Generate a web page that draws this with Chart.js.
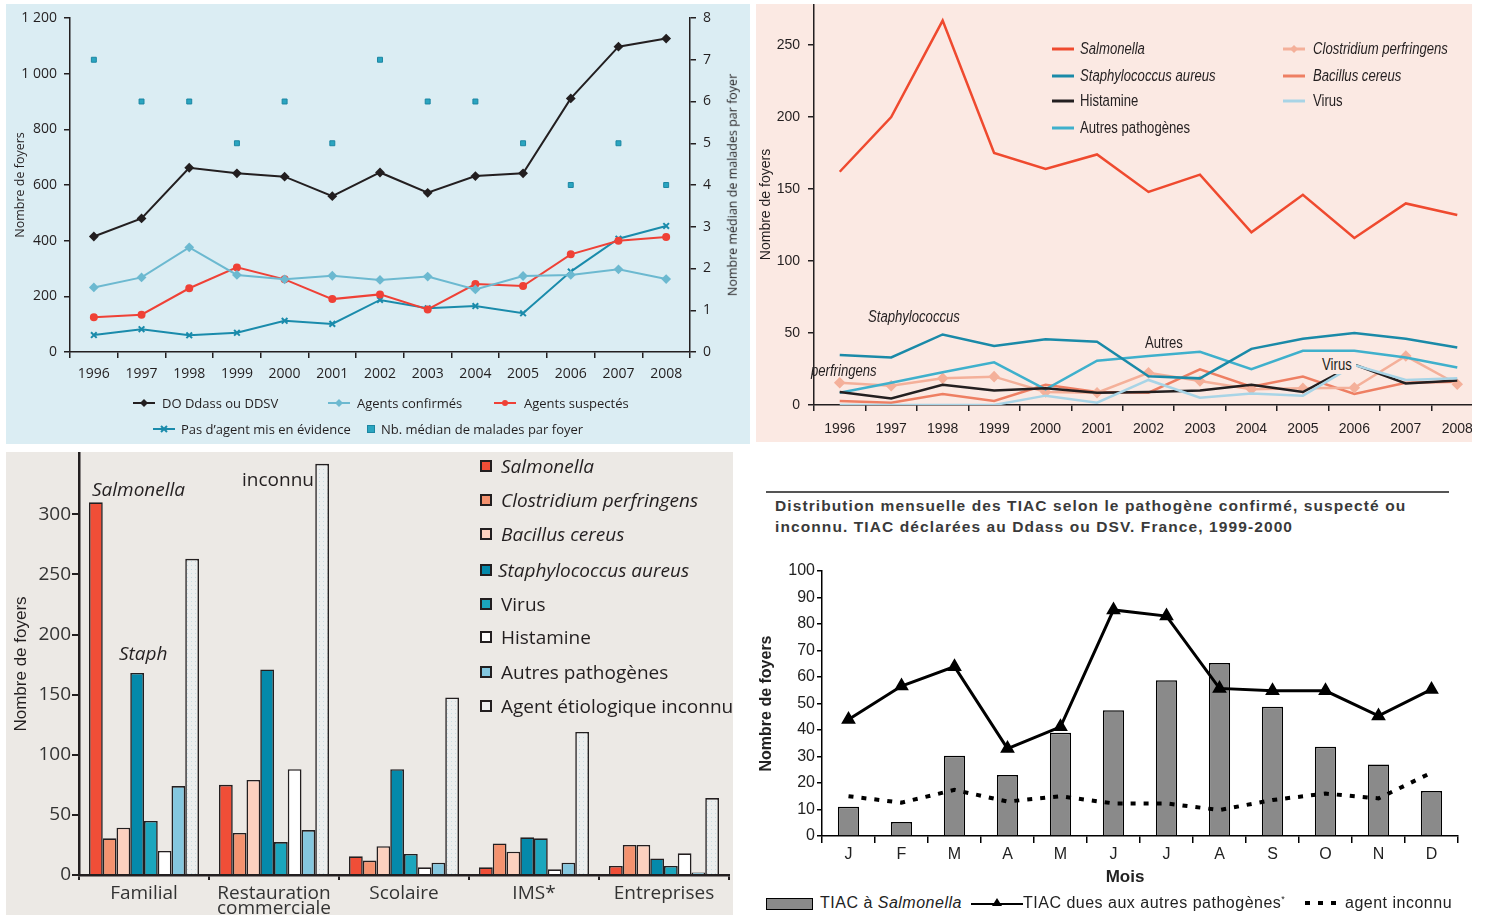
<!DOCTYPE html>
<html lang="fr">
<head>
<meta charset="utf-8">
<title>TIAC - foyers par agent</title>
<script src="https://cdn.jsdelivr.net/npm/chart.js@4.4.1/dist/chart.umd.min.js"></script>
<style>
  body { margin: 0; background: #fff; width: 1487px; height: 915px; position: relative; overflow: hidden; font-family: "Open Sans", sans-serif; color: #231f20; }
  .panel { position: absolute; overflow: hidden; }
  #p1 { left: 6px; top: 4px; width: 744px; height: 440px; background: #dbedf3; }
  #p2 { left: 756px; top: 4px; width: 716px; height: 438px; background: #fbe9e3; }
  #p3 { left: 6px; top: 452px; width: 727px; height: 463px; background: #ece9e5; }
  #p4 { left: 735px; top: 480px; width: 752px; height: 435px; background: #fff; }
  canvas { position: absolute; left: 0; top: 0; }
  .t { position: absolute; white-space: nowrap; line-height: 1; transform: translateY(-50%); }
  svg { position: absolute; overflow: visible; }
  .leg1 { font-size: 13px; }
  .narrow { font-family: "Liberation Sans", Arial, sans-serif; font-size: 16px; transform: translateY(-50%) scaleX(0.82); transform-origin: left center; }
  .leg3 { font-size: 19px; }
  .sq { position: absolute; width: 8px; height: 8px; border: 2px solid #231f20; transform: translateY(-50%); }
  .arial { font-family: "Liberation Sans", Arial, sans-serif; color: #222; letter-spacing: 0.5px; }
  .titre { font-size: 15.5px; font-weight: bold; color: #3a3a3a; letter-spacing: 1.1px; }
</style>
</head>
<body>

<div class="panel" id="p1">
  <canvas id="c1" width="744" height="440"></canvas>
  <div class="t" style="left:727px;top:181px;font-size:12.5px;transform:translate(-50%,-50%) rotate(-90deg)">Nombre médian de malades par foyer</div>
  <svg style="left:127px;top:393px" width="22" height="12"><line x1="0" y1="6" x2="22" y2="6" stroke="#231f20" stroke-width="2"/><polygon points="11,2 15,6 11,10 7,6" fill="#231f20"/></svg>
  <div class="t leg1" style="left:156px;top:399px">DO Ddass ou DDSV</div>
  <svg style="left:322px;top:393px" width="22" height="12"><line x1="0" y1="6" x2="22" y2="6" stroke="#6cb9d0" stroke-width="2"/><polygon points="11,2 15,6 11,10 7,6" fill="#6cb9d0"/></svg>
  <div class="t leg1" style="left:351px;top:399px">Agents confirmés</div>
  <svg style="left:488px;top:393px" width="22" height="12"><line x1="0" y1="6" x2="22" y2="6" stroke="#ef4136" stroke-width="2"/><circle cx="11" cy="6" r="3" fill="#ef4136"/></svg>
  <div class="t leg1" style="left:518px;top:399px">Agents suspectés</div>
  <svg style="left:147px;top:419px" width="22" height="12"><line x1="0" y1="6" x2="22" y2="6" stroke="#1a8bab" stroke-width="2"/><path d="M8,3 L14,9 M14,3 L8,9" stroke="#1a8bab" stroke-width="2"/></svg>
  <div class="t leg1" style="left:175px;top:425px">Pas d’agent mis en évidence</div>
  <svg style="left:361px;top:419px" width="8" height="12"><rect x="0.5" y="2.5" width="7" height="7" fill="#2aa5c0" stroke="#1c86a2"/></svg>
  <div class="t leg1" style="left:375px;top:425px">Nb. médian de malades par foyer</div>
</div>

<div class="panel" id="p2">
  <canvas id="c2" width="730" height="438"></canvas>
  <svg style="left:296px;top:40px" width="22" height="10"><line x1="0" y1="5" x2="22" y2="5" stroke="#ef4a2f" stroke-width="3"/></svg>
  <div class="t narrow" style="left:324px;top:45px;font-style:italic">Salmonella</div>
  <svg style="left:296px;top:67px" width="22" height="10"><line x1="0" y1="5" x2="22" y2="5" stroke="#1a8aa8" stroke-width="3"/></svg>
  <div class="t narrow" style="left:324px;top:72px;font-style:italic">Staphylococcus aureus</div>
  <svg style="left:296px;top:92px" width="22" height="10"><line x1="0" y1="5" x2="22" y2="5" stroke="#231f20" stroke-width="3"/></svg>
  <div class="t narrow" style="left:324px;top:97px">Histamine</div>
  <svg style="left:296px;top:119px" width="22" height="10"><line x1="0" y1="5" x2="22" y2="5" stroke="#3fb0cc" stroke-width="3"/></svg>
  <div class="t narrow" style="left:324px;top:124px">Autres pathogènes</div>
  <svg style="left:527px;top:40px" width="22" height="10"><line x1="0" y1="5" x2="22" y2="5" stroke="#f4b09a" stroke-width="3"/><polygon points="11,1 15,5 11,9 7,5" fill="#f4b09a"/></svg>
  <div class="t narrow" style="left:557px;top:45px;font-style:italic">Clostridium perfringens</div>
  <svg style="left:527px;top:67px" width="22" height="10"><line x1="0" y1="5" x2="22" y2="5" stroke="#ee7f63" stroke-width="3"/></svg>
  <div class="t narrow" style="left:557px;top:72px;font-style:italic">Bacillus cereus</div>
  <svg style="left:527px;top:92px" width="22" height="10"><line x1="0" y1="5" x2="22" y2="5" stroke="#a8d4e6" stroke-width="3"/></svg>
  <div class="t narrow" style="left:557px;top:97px">Virus</div>
  <div class="t narrow" style="left:112px;top:313px;font-style:italic">Staphylococcus</div>
  <div class="t narrow" style="left:55px;top:367px;font-style:italic">perfringens</div>
  <div class="t narrow" style="left:389px;top:339px">Autres</div>
  <div class="t narrow" style="left:562px;top:361px;background:#fbe9e3;padding:1px 5px">Virus</div>
</div>

<div class="panel" id="p3">
  <canvas id="c3" width="727" height="463"></canvas>
  <div class="t leg3" style="left:86px;top:37px;font-style:italic">Salmonella</div>
  <div class="t leg3" style="left:113px;top:201px;font-style:italic">Staph</div>
  <div class="t leg3" style="left:236px;top:27px">inconnu</div>
  <div class="sq" style="left:474px;top:14px;background:#f04e37"></div>
  <div class="t leg3" style="left:495px;top:14px;font-style:italic">Salmonella</div>
  <div class="sq" style="left:474px;top:48px;background:#f4926f"></div>
  <div class="t leg3" style="left:495px;top:48px;font-style:italic">Clostridium perfringens</div>
  <div class="sq" style="left:474px;top:82px;background:#fcd1bf"></div>
  <div class="t leg3" style="left:495px;top:82px;font-style:italic">Bacillus cereus</div>
  <div class="sq" style="left:474px;top:118px;background:#0489aa"></div>
  <div class="t leg3" style="left:492px;top:118px;font-style:italic">Staphylococcus aureus</div>
  <div class="sq" style="left:474px;top:152px;background:#1ba6bd"></div>
  <div class="t leg3" style="left:495px;top:152px">Virus</div>
  <div class="sq" style="left:474px;top:185px;background:#ffffff"></div>
  <div class="t leg3" style="left:495px;top:185px">Histamine</div>
  <div class="sq" style="left:474px;top:220px;background:#84c7df"></div>
  <div class="t leg3" style="left:495px;top:220px">Autres pathogènes</div>
  <div class="sq" style="left:474px;top:254px;background:#eef0f0"></div>
  <div class="t leg3" style="left:495px;top:254px">Agent étiologique inconnu</div>
</div>

<div class="panel" id="p4">
  <div style="position:absolute;left:31px;top:11px;width:683px;height:2px;background:#555"></div>
  <div class="t arial titre" style="left:40px;top:26px">Distribution mensuelle des TIAC selon le pathogène confirmé, suspecté ou</div>
  <div class="t arial titre" style="left:40px;top:47px">inconnu. TIAC déclarées au Ddass ou DSV. France, 1999-2000</div>
  <canvas id="c4" width="752" height="335" style="top:75px"></canvas>
  <div class="t arial" style="left:390px;top:396px;font-size:17px;font-weight:bold;letter-spacing:0;transform:translate(-50%,-50%)">Mois</div>
  <div style="position:absolute;left:31px;top:418px;width:45px;height:10px;background:#8a8a8a;border:1.5px solid #000"></div>
  <div class="t arial" style="left:85px;top:423px;font-size:16px">TIAC à <i>Salmonella</i></div>
  <svg style="left:236px;top:416px" width="52" height="14"><line x1="0" y1="8" x2="52" y2="8" stroke="#000" stroke-width="2"/><polygon points="26,2 31,10 21,10" fill="#000"/></svg>
  <div class="t arial" style="left:288px;top:423px;font-size:16px">TIAC dues aux autres pathogènes<sup style="font-size:9px">*</sup></div>
  <svg style="left:570px;top:418px" width="34" height="10"><line x1="0" y1="5" x2="34" y2="5" stroke="#000" stroke-width="4" stroke-dasharray="5,8"/></svg>
  <div class="t arial" style="left:610px;top:423px;font-size:16px">agent inconnu</div>
</div>

<script>
// Années (graphiques du haut)
const annees = ["1996", "1997", "1998", "1999", "2000", "2001", "2002", "2003", "2004", "2005", "2006", "2007", "2008"];

// Panneau 1 : nombre de foyers déclarés
const foyersDO = [415, 480, 662, 642, 630, 560, 645, 572, 632, 642, 911, 1097, 1126];
const agentsConfirmes = [232, 268, 376, 277, 261, 274, 259, 271, 225, 273, 277, 297, 262];
const agentsSuspectes = [125, 134, 229, 304, 261, 190, 207, 153, 244, 237, 351, 400, 413];
const pasAgent = [61, 82, 60, 69, 112, 101, 187, 157, 165, 139, 289, 407, 453];
const medianMalades = [7, 6, 6, 5, 6, 5, 7, 6, 6, 5, 4, 5, 4];
const ticksFoyers = ["0", "200", "400", "600", "800", "1 000", "1 200"];

// Panneau 2 : foyers par pathogène confirmé
const salmonella = [162, 200, 267, 175, 164, 174, 148, 160, 120, 146, 116, 140, 132];
const staphylo = [34.7, 33, 49, 41, 45.6, 44, 20, 18.5, 39, 46, 50, 46, 40];
const histamine = [9, 4.6, 14, 10, 11.6, 8.5, 9, 10, 14, 9, 28, 15, 17];
const autresPatho = [8.5, 15.5, 22.7, 29.6, 10.9, 30.8, 34, 37, 24.8, 37.7, 37.7, 33, 26];
const clostridium = [15.5, 13.4, 18.5, 19.7, 9, 8.5, 22.4, 16.7, 10.9, 11.6, 12, 34, 14.4];
const bacillus = [2.8, 1.6, 7.6, 2.8, 14, 9, 8.5, 24.8, 12.7, 19.7, 7.6, 15.5, 16.2];
const virus = [0, 0, 0, 0, 6.5, 1.6, 17.4, 5, 8, 6.5, 27.7, 17.4, 18.5];
const ticksPanneau2 = [0, 50, 100, 150, 200, 250];

// Panneau 3 : foyers par lieu de restauration
const lieux = ["Familial", ["Restauration", "commerciale"], "Scolaire", "IMS*", "Entreprises"];
const barSalmonella = [310, 75, 15.5, 6.4, 7.5];
const barClostridium = [30.5, 35, 12, 26.3, 25];
const barBacillus = [39.3, 79, 24, 19.4, 25];
const barStaph = [168, 171, 88, 31.3, 13.8];
const barVirus = [45, 27.4, 17.5, 30.5, 7.5];
const barHistamine = [20, 88, 6.4, 4.7, 18];
const barAutres = [74, 37.4, 10.2, 10.2, 2];
const barInconnu = [263, 342, 147.7, 119, 64];
const ticksPanneau3 = [0, 50, 100, 150, 200, 250, 300];

// Panneau 4 : distribution mensuelle 1999-2000
const mois = ["J", "F", "M", "A", "M", "J", "J", "A", "S", "O", "N", "D"];
const tiacSalmonella = [11, 5.3, 30.3, 23, 39, 47.5, 58.8, 65.3, 48.8, 33.7, 27, 17];
const tiacAutres = [44, 56.6, 63.9, 33, 41.2, 85.3, 83, 55.7, 54.8, 54.8, 45.3, 55.3];
const agentInconnu = [15, 12.6, 17.4, 13, 15, 12.3, 12.3, 9.8, 13.6, 16, 14.2, 23.9];

const encre = "#231f20";
const openSans = "'Open Sans', sans-serif";
const arial = "'Liberation Sans', Arial, sans-serif";

Chart.defaults.color = encre;
Chart.defaults.animation = false;
Chart.defaults.responsive = false;
Chart.defaults.layout.autoPadding = false;
Chart.defaults.plugins.legend.display = false;
Chart.defaults.plugins.tooltip.enabled = false;

// fixe la taille des axes pour caler la zone de tracé
function largeur(w) {
  return (s) => { s.width = w; s.paddingTop = 0; s.paddingBottom = 0; };
}
function hauteur(h) {
  return (s) => { s.height = h; s.paddingLeft = 0; s.paddingRight = 0; };
}
function graduations(valeurs) {
  return (s) => { s.ticks = valeurs.map((v) => ({ value: v })); };
}

// ---------- Panneau 1 ----------
new Chart(document.getElementById("c1"), {
  type: "line",
  data: {
    labels: annees,
    datasets: [
      { data: foyersDO, borderColor: encre, backgroundColor: encre, borderWidth: 2, pointStyle: "rectRot", pointRadius: 3.5 },
      { data: agentsConfirmes, borderColor: "#6cb9d0", backgroundColor: "#6cb9d0", borderWidth: 2, pointStyle: "rectRot", pointRadius: 3.5 },
      { data: agentsSuspectes, borderColor: "#ef4136", backgroundColor: "#ef4136", borderWidth: 2, pointStyle: "circle", pointRadius: 3 },
      { data: pasAgent, borderColor: "#1a8bab", backgroundColor: "#1a8bab", borderWidth: 2, pointStyle: "crossRot", pointRadius: 4, pointBorderWidth: 2 },
      { data: medianMalades, yAxisID: "y1", showLine: false, pointStyle: "rect", pointRadius: 3.5, backgroundColor: "#2aa5c0", borderColor: "#1c86a2", borderWidth: 1 },
    ],
  },
  options: {
    layout: { padding: { top: 14 } },
    scales: {
      x: {
        offset: true,
        grid: { offset: true, drawOnChartArea: false, tickLength: 6, color: encre, lineWidth: 1.5 },
        border: { color: encre, width: 1.5 },
        ticks: { font: { family: openSans, size: 14 }, padding: 8, maxRotation: 0, autoSkip: false },
        afterFit: hauteur(92),
      },
      y: {
        min: 0, max: 1200,
        grid: { drawOnChartArea: false, tickLength: 6, color: encre, lineWidth: 1.5 },
        border: { color: encre, width: 1.5 },
        ticks: { stepSize: 200, padding: 7, font: { family: openSans, size: 14 }, callback: (v) => ticksFoyers[v / 200] },
        title: { display: true, text: "Nombre de foyers", font: { family: openSans, size: 12.5 }, padding: { top: 6.5, bottom: 0 } },
        afterFit: largeur(64),
      },
      y1: {
        position: "right",
        min: 0, max: 8,
        grid: { drawOnChartArea: false, tickLength: 6, color: encre, lineWidth: 1.5 },
        border: { color: encre, width: 1.5 },
        ticks: { stepSize: 1, padding: 7, font: { family: openSans, size: 14 } },
        afterFit: largeur(60),
      },
    },
  },
});

// ---------- Panneau 2 ----------
const ligne2 = (data, couleur) => ({ data, borderColor: couleur, backgroundColor: couleur, borderWidth: 2.5, pointRadius: 0 });
new Chart(document.getElementById("c2"), {
  type: "line",
  data: {
    labels: annees,
    datasets: [
      ligne2(salmonella, "#ef4a2f"),
      ligne2(staphylo, "#1a8aa8"),
      ligne2(virus, "#a8d4e6"),
      ligne2(histamine, encre),
      ligne2(autresPatho, "#3fb0cc"),
      Object.assign(ligne2(clostridium, "#f4b09a"), { pointStyle: "rectRot", pointRadius: 4 }),
      ligne2(bacillus, "#ee7f63"),
    ],
  },
  options: {
    layout: { padding: { top: 0, right: 3 } },
    scales: {
      x: {
        offset: true,
        grid: { offset: true, drawOnChartArea: false, tickLength: 6, color: encre, lineWidth: 1.5 },
        border: { color: encre, width: 1.5 },
        ticks: { font: { family: arial, size: 14 }, padding: 10, maxRotation: 0, autoSkip: false },
        afterFit: hauteur(37),
      },
      y: {
        min: 0, max: 278.5,
        grid: { drawOnChartArea: false, tickLength: 6, color: encre, lineWidth: 1.5 },
        border: { color: encre, width: 1.5 },
        ticks: { padding: 8, font: { family: arial, size: 14 } },
        afterBuildTicks: graduations(ticksPanneau2),
        title: { display: true, text: "Nombre de foyers", font: { family: arial, size: 14 }, padding: { top: 2, bottom: 0 } },
        afterFit: largeur(58),
      },
    },
  },
});

// ---------- Panneau 3 ----------
const ctx3 = document.getElementById("c3").getContext("2d");
const tuile = document.createElement("canvas");
tuile.width = 4; tuile.height = 4;
const gt = tuile.getContext("2d");
gt.fillStyle = "#eceeee"; gt.fillRect(0, 0, 4, 4);
gt.fillStyle = "#c8dce2"; gt.fillRect(1, 1, 1, 1);
const pointille = ctx3.createPattern(tuile, "repeat");

const barre3 = (data, couleur) => ({ data, backgroundColor: couleur, borderColor: encre, borderWidth: 1.6 });
new Chart(ctx3, {
  type: "bar",
  data: {
    labels: lieux,
    datasets: [
      barre3(barSalmonella, "#f04e37"),
      barre3(barClostridium, "#f4926f"),
      barre3(barBacillus, "#fcd1bf"),
      barre3(barStaph, "#0489aa"),
      barre3(barVirus, "#1ba6bd"),
      barre3(barHistamine, "#ffffff"),
      barre3(barAutres, "#84c7df"),
      barre3(barInconnu, pointille),
    ],
  },
  options: {
    layout: { padding: { top: 1, right: 4 } },
    datasets: { bar: { categoryPercentage: 0.846, barPercentage: 1 } },
    scales: {
      x: {
        grid: { offset: true, drawOnChartArea: false, tickLength: 5, color: encre, lineWidth: 2 },
        border: { color: encre, width: 2.5 },
        ticks: { font: { family: openSans, size: 19, lineHeight: 0.78 }, color: "#333", padding: 6, maxRotation: 0, autoSkip: false },
        afterFit: hauteur(40),
      },
      y: {
        min: 0, max: 351,
        grid: { drawOnChartArea: false, tickLength: 7, color: encre, lineWidth: 2 },
        border: { color: encre, width: 2.5 },
        ticks: { padding: 1, color: "#333", font: { family: openSans, size: 19 } },
        afterBuildTicks: graduations(ticksPanneau3),
        title: { display: true, text: "Nombre de foyers", font: { family: arial, size: 17 }, padding: { top: 5, bottom: 0 } },
        afterFit: largeur(73),
      },
    },
  },
});

// ---------- Panneau 4 ----------
new Chart(document.getElementById("c4"), {
  data: {
    labels: mois,
    datasets: [
      { type: "line", data: tiacAutres, borderColor: "#000", backgroundColor: "#000", borderWidth: 3, pointStyle: "triangle", pointRadius: 5.5, order: 0 },
      { type: "line", data: agentInconnu, borderColor: "#000", borderWidth: 4, borderDash: [5, 8], pointRadius: 0, order: 1 },
      { type: "bar", data: tiacSalmonella, backgroundColor: "#8a8a8a", borderColor: "#000", borderWidth: 1.5, categoryPercentage: 1, barPercentage: 0.4, order: 2 },
    ],
  },
  options: {
    layout: { padding: { top: 16, right: 29 } },
    scales: {
      x: {
        offset: true,
        grid: { offset: true, drawOnChartArea: false, tickLength: 7, color: "#000", lineWidth: 1.5 },
        border: { color: "#000", width: 1.5 },
        ticks: { font: { family: arial, size: 16 }, color: "#222", padding: 2, maxRotation: 0, autoSkip: false },
        afterFit: hauteur(54),
      },
      y: {
        min: 0, max: 100,
        grid: { drawOnChartArea: false, tickLength: 5, color: "#000", lineWidth: 1.5 },
        border: { color: "#000", width: 1.5 },
        ticks: { stepSize: 10, padding: 2, color: "#222", font: { family: arial, size: 16 } },
        title: { display: true, text: "Nombre de foyers", color: "#222", font: { family: arial, size: 16, weight: "bold" }, padding: { top: 22, bottom: 0 } },
        afterFit: largeur(87),
      },
    },
  },
});
</script>
</body>
</html>
